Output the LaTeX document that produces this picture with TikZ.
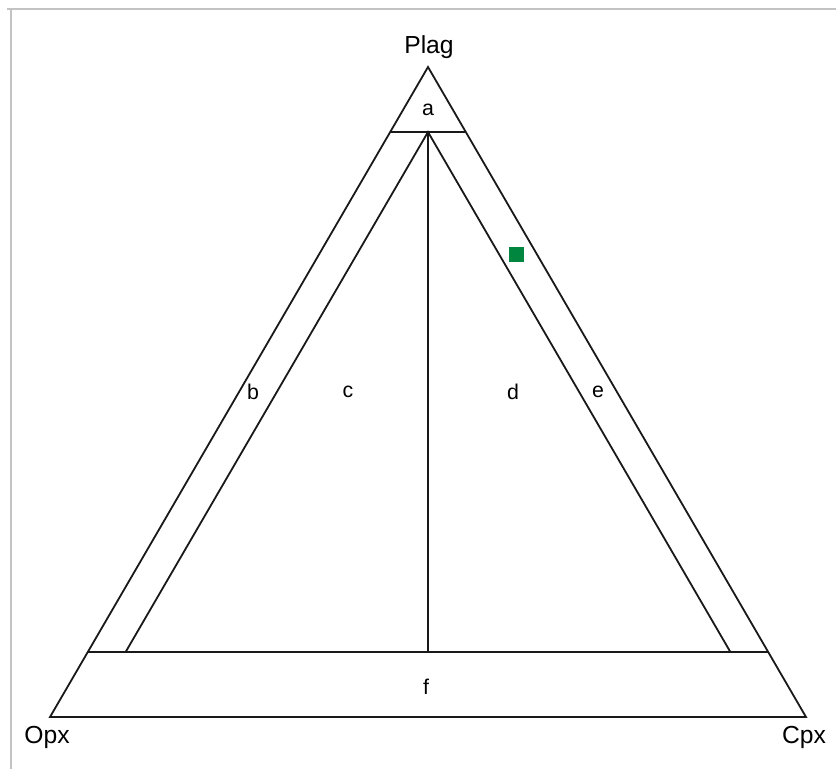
\documentclass[tikz,border=0pt]{standalone}
\usepackage{fontspec}
\setmainfont{Liberation Sans}
\usetikzlibrary{calc}
\definecolor{FieldLine}{RGB}{25, 25, 25}
\definecolor{FrameGrey}{RGB}{195, 195, 195}
\definecolor{SampleGreen}{RGB}{0, 134, 62}

\begin{document}
\begin{tikzpicture}[x=0.75pt, y=-0.75pt,
    field/.style={draw=FieldLine, line width=1.35pt, line join=miter},
    corner/.style={font=\fontsize{18.5}{20}\selectfont},
    fieldlabel/.style={font=\fontsize{16}{18}\selectfont}]

        % Page and frame
        \useasboundingbox (0, 0) rectangle (836, 769);
        \draw[FrameGrey, line width=1.1pt] (7, 9) -- (836, 9);
        \draw[FrameGrey, line width=1.1pt] (11, 9) -- (11, 769);

        % Corners of the ternary diagram
        \coordinate (Opx) at (50, 717);
        \coordinate (Cpx) at (806, 717);
        \coordinate (Plag) at (428, 67);

        % Field boundaries (Plag 90 / 10, Opx 5, Cpx 5)
        \coordinate (TopL) at (barycentric cs:Plag=0.9,Opx=0.1,Cpx=0);
        \coordinate (TopR) at (barycentric cs:Plag=0.9,Opx=0,Cpx=0.1);
        \coordinate (BotL) at (barycentric cs:Plag=0.1,Opx=0.9,Cpx=0);
        \coordinate (BotR) at (barycentric cs:Plag=0.1,Opx=0,Cpx=0.9);
        \coordinate (InApex) at (barycentric cs:Plag=0.9,Opx=0.05,Cpx=0.05);
        \coordinate (InL) at (barycentric cs:Plag=0.1,Opx=0.85,Cpx=0.05);
        \coordinate (InR) at (barycentric cs:Plag=0.1,Opx=0.05,Cpx=0.85);
        \coordinate (InMid) at (barycentric cs:Plag=0.1,Opx=0.45,Cpx=0.45);

        % Outer triangle
        \draw[field] (Opx) -- (Cpx) -- (Plag) -- cycle;

        % Inner lines
        \draw[field] (TopL) -- (TopR);
        \draw[field] (BotL) -- (BotR);
        \draw[field] (InL) -- (InApex) -- (InR);
        \draw[field] (InApex) -- (InMid);

        % Corner labels
        \node[corner] (PlagLabel) at (429, 47) {Plag};
        \node[corner] (OpxLabel) at (47, 737) {Opx};
        \node[corner] (CpxLabel) at (804, 737) {Cpx};

        % Field labels
        \node[fieldlabel] (FieldA) at (428, 110) {a};
        \node[fieldlabel] (FieldB) at (253, 392) {b};
        \node[fieldlabel] (FieldC) at (348, 392) {c};
        \node[fieldlabel] (FieldD) at (513, 392) {d};
        \node[fieldlabel] (FieldE) at (598, 392) {e};
        \node[fieldlabel] (FieldF) at (426, 687) {f};

        % Sample
        \fill[SampleGreen] (508.5, 246.5) rectangle (523.5, 261.5);

    \end{tikzpicture}
\end{document}
